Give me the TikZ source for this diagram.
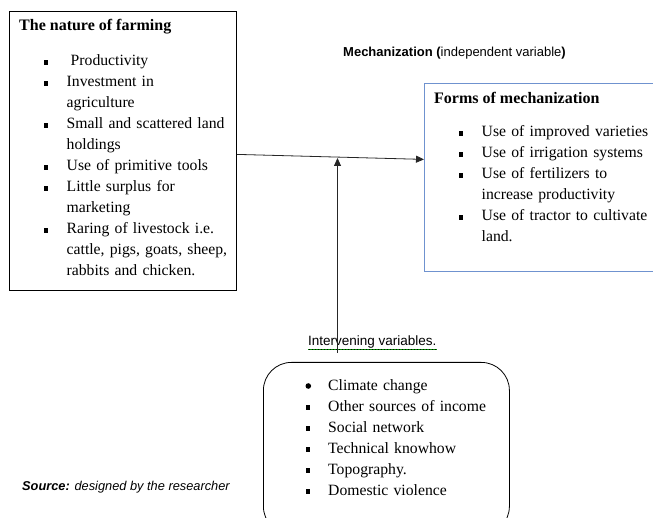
\documentclass[tikz,border=0pt]{standalone}
\usepackage{fontspec}
\setmainfont{Liberation Serif}
\setsansfont{Liberation Sans}
\usetikzlibrary{arrows.meta}

\definecolor{boxblue}{RGB}{111,146,207}

% punti elenco
\newcommand{\sqbul}{\hspace*{-22.5pt}\makebox[22.5pt][l]{\rule[1.3pt]{4.2pt}{4.8pt}}}
\newcommand{\nobul}{\hspace*{-22.5pt}\makebox[22.5pt][l]{}}

\tikzset{
    varbox/.style={draw, line width=0.8pt, inner sep=0pt, anchor=north west},
    boxtitle/.style={anchor=base west, inner sep=0pt, font=\fontsize{16}{19}\selectfont\bfseries},
    itemlist/.style={anchor=base west, inner sep=0pt, text width=210pt, align=left,
        font=\fontsize{15.7}{21}\selectfont},
    sanstext/.style={anchor=base west, inner sep=0pt, font=\sffamily\fontsize{13}{15}\selectfont},
    arr/.style={-{Triangle[length=8pt,width=7pt]}, line width=0.8pt, draw=black!85}
}

\begin{document}
\begin{tikzpicture}[x=1pt,y=-1pt]
        \useasboundingbox (0,0) rectangle (653,518);
        % Riquadri
        \node[varbox, minimum width=227pt, minimum height=279pt] (farming) at (9,11) {};
        \node[varbox, draw=boxblue, minimum width=232pt, minimum height=188pt] (forms) at (424,83) {};
        \node[varbox, rounded corners=28pt, minimum width=246pt, minimum height=172pt] (interv) at (263,362) {};
        % Testi
        \node[boxtitle] (farmtitle) at (19,30.7) {The nature of farming};
        \node[itemlist] (farmlist) at (44,66) {\leftskip=22.5pt
            \sqbul\hspace{4pt}Productivity\\
            \sqbul Investment in\\agriculture\\
            \sqbul Small and scattered land\\holdings\\
            \sqbul Use of primitive tools\\
            \sqbul Little surplus for\\marketing\\
            \sqbul Raring of livestock i.e.\\cattle, pigs, goats, sheep,\\rabbits and chicken.\par};
        \node[boxtitle] (formstitle) at (434,103.5) {Forms of mechanization};
        \node[itemlist] (formslist) at (459,137) {\leftskip=22.5pt
            \sqbul Use of improved varieties\\
            \sqbul Use of irrigation systems\\
            \sqbul Use of fertilizers to\\increase productivity\\
            \sqbul Use of tractor to cultivate\\land.\par};
        \node[itemlist] (intervlist) at (305.5,390) {\leftskip=22.5pt
            \nobul Climate change\\
            \sqbul Other sources of income\\
            \sqbul Social network\\
            \sqbul Technical knowhow\\
            \sqbul Topography.\\
            \sqbul Domestic violence\par};
        \fill ([xshift=2.8pt,yshift=4pt]intervlist.base west) circle (2.8pt);
        \node[sanstext] (mechlabel) at (343,56.5) {\textbf{Mechanization (}independent variable\textbf{)}};
        \node[sanstext, font=\sffamily\fontsize{13.5}{15}\selectfont] (ivlabel) at (308,345) {\underline{Intervening variables.}};
        \draw[green!55!black, densely dotted, line width=0.5pt] ([yshift=-4.5pt]ivlabel.base west) -- ([yshift=-4.5pt]ivlabel.base east);
        \node[sanstext, font=\sffamily\fontsize{12.8}{15}\selectfont] (source) at (22,490) {\textbf{\textit{Source:}} \textit{designed by the researcher}};
        % Frecce
        \coordinate (ivfoot) at (337.5,353);
        \coordinate (ivhead) at (337.5,158);
        \draw[arr] ([yshift=-3.5pt]farming.east) -- ([yshift=18pt]forms.west);
        \draw[arr] (ivfoot) -- (ivhead);
    \end{tikzpicture}
\end{document}
